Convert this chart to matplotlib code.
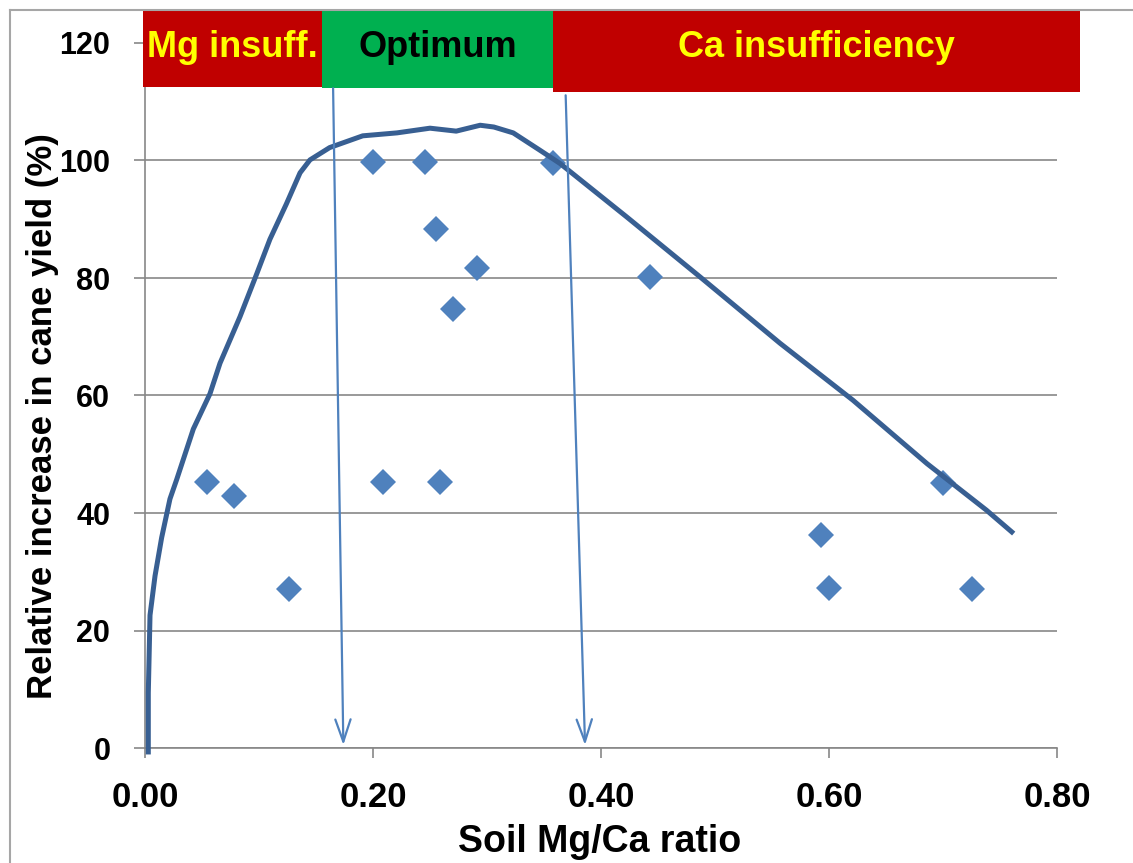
import matplotlib
matplotlib.use("Agg")
import matplotlib.pyplot as plt
from matplotlib.patches import Rectangle
from matplotlib.lines import Line2D

# ---------------- data ----------------
obs_x = [0.054, 0.078, 0.126, 0.200, 0.209, 0.246, 0.255, 0.259, 0.270, 0.291,
         0.358, 0.443, 0.593, 0.600, 0.700, 0.725]
obs_y = [45.2, 42.9, 27.1, 99.8, 45.2, 99.8, 88.3, 45.2, 74.7, 81.7,
         99.6, 80.2, 36.3, 27.2, 45.1, 27.1]

curve_x = [0.0029, 0.0029, 0.0044, 0.0088, 0.0146, 0.0219, 0.0278, 0.0424, 0.057,
           0.0658, 0.0833, 0.098, 0.1096, 0.124, 0.136, 0.1447, 0.162, 0.191,
           0.221, 0.250, 0.273, 0.294, 0.306, 0.323, 0.346, 0.364, 0.4225,
           0.4868, 0.557, 0.621, 0.686, 0.738, 0.762]
curve_y = [-1.1, 9.4, 22.6, 29.3, 35.8, 42.4, 45.7, 54.3, 60.3,
           65.5, 73.4, 80.7, 86.6, 92.6, 97.9, 100.1, 102.2, 104.2,
           104.7, 105.5, 105.0, 106.0, 105.7, 104.7, 101.8, 99.5, 90.4,
           80.2, 68.9, 59.2, 48.4, 40.5, 36.5]

zone_labels = ["Mg insuff.", "Optimum", "Ca insufficiency"]
zone_start = [-0.002, 0.155, 0.358]
zone_end = [0.155, 0.358, 0.820]
zone_bottom = [112.5, 112.3, 111.7]
zone_top = 125.6

arrow_top_x = [0.165, 0.369]
arrow_top_y = [112.3, 111.1]
arrow_bot_x = [0.174, 0.386]
arrow_bot_y = [0.5, 0.5]

x_ticks = [0.0, 0.2, 0.4, 0.6, 0.8]
x_ticklabels = ["0.00", "0.20", "0.40", "0.60", "0.80"]
y_ticks = [0, 20, 40, 60, 80, 100, 120]

# ---------------- style ----------------
plt.rcParams['font.family'] = ['Liberation Sans', 'DejaVu Sans']
RED = "#C00000"
GREEN = "#00B050"
YELLOW = "#FFFF00"
POINT = "#4F81BD"
CURVE = "#385F92"
GRID = "#878787"

fig = plt.figure(figsize=(11.33, 8.63), dpi=100)
ax = fig.add_axes([145/1133, 1-748/863, (1057-145)/1133, (748-43)/863])

ax.set_xlim(0, 0.8)
ax.set_ylim(0, 120)

for s in ["top", "right"]:
    ax.spines[s].set_visible(False)
for s in ["left", "bottom"]:
    ax.spines[s].set_color(GRID)
    ax.spines[s].set_linewidth(1.2)

ax.set_yticks(y_ticks)
ax.set_yticklabels([str(v) for v in y_ticks])
ax.set_xticks(x_ticks)
ax.set_xticklabels(x_ticklabels)
ax.tick_params(axis='y', direction='out', length=8, width=1.2, color=GRID,
               pad=17, labelsize=22)
ax.tick_params(axis='x', direction='out', length=7.5, width=1.2, color=GRID,
               pad=16, labelsize=25)
for lbl in ax.get_xticklabels() + ax.get_yticklabels():
    lbl.set_fontweight('bold')

ax.yaxis.grid(True, color=GRID, linewidth=1.2)
ax.set_axisbelow(True)

# observations
ax.plot(obs_x, obs_y, linestyle='none', marker='D', markersize=13,
        color=POINT, markeredgewidth=0, zorder=3)
# fitted curve
ax.plot(curve_x, curve_y, color=CURVE, linewidth=3.6, solid_capstyle='butt',
        solid_joinstyle='round', clip_on=False, zorder=4)

# zone bands
for lab, x0, x1, yb in zip(zone_labels, zone_start, zone_end, zone_bottom):
    col = GREEN if lab == "Optimum" else RED
    ax.add_patch(Rectangle((x0, yb), x1 - x0, zone_top - yb, facecolor=col,
                           edgecolor='none', clip_on=False, zorder=5))
    tcol = 'black' if lab == "Optimum" else YELLOW
    ax.text((x0 + x1) / 2, 119.3, lab, ha='center', va='center', color=tcol,
            fontsize=26, fontweight='bold', clip_on=False, zorder=6)

# arrows
for tx, ty, bx, by in zip(arrow_top_x, arrow_top_y, arrow_bot_x, arrow_bot_y):
    ax.annotate("", xy=(bx, by), xytext=(tx, ty),
                arrowprops=dict(arrowstyle="->,head_length=1.6,head_width=0.55",
                                color=POINT, linewidth=1.6, shrinkA=0, shrinkB=0),
                annotation_clip=False, zorder=6)

# axis titles
fig.text(600/1133, 1-842/863, "Soil Mg/Ca ratio", ha='center', va='center',
         fontsize=27, fontweight='bold')
fig.text(43/1133, 1-416/863, "Relative increase in cane yield (%)", ha='center',
         va='center', rotation=90, fontsize=25, fontweight='bold')

# chart border
fig.add_artist(Line2D([10/1133, 10/1133], [0, 1-10/863], transform=fig.transFigure,
                      color="#A6A6A6", linewidth=1.5))
fig.add_artist(Line2D([10/1133, 1], [1-10/863, 1-10/863], transform=fig.transFigure,
                      color="#A6A6A6", linewidth=1.5))

fig.savefig("out.png", dpi=100)
